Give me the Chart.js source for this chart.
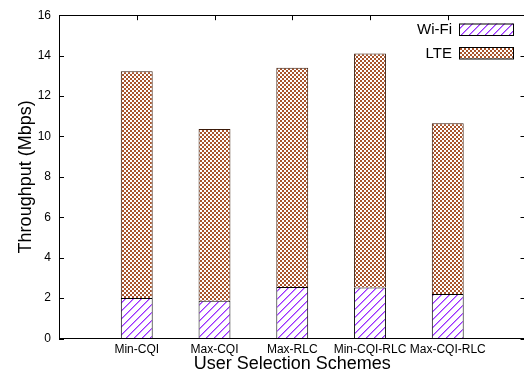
<!DOCTYPE html>
<html>
<head>
<meta charset="utf-8">
<script src="https://cdn.jsdelivr.net/npm/chart.js@4/dist/chart.umd.min.js"></script>
<style>
  html, body { margin: 0; padding: 0; background: #fff; overflow: hidden; }
  #wrap { width: 530px; height: 376px; position: relative; }
</style>
</head>
<body>
<div id="wrap"><canvas id="chart"></canvas></div>
<script>
// Throughput per user selection scheme, split into Wi-Fi and LTE parts
const categories = ['Min-CQI', 'Max-CQI', 'Max-RLC', 'Min-CQI-RLC', 'Max-CQI-RLC'];
const wifiThroughput = [2.0, 1.87, 2.55, 2.53, 2.2];
const lteThroughput = [11.23, 8.5, 10.85, 11.57, 8.45];
const yTicks = [0, 2, 4, 6, 8, 10, 12, 14, 16];

const FONT = "'Liberation Sans', Arial, Helvetica, sans-serif";

// Fill patterns: purple diagonal hatch and brown checkerboard
function hatchPattern() {
  const c = document.createElement('canvas');
  c.width = 8; c.height = 8;
  const g = c.getContext('2d');
  g.fillStyle = '#ffffff';
  g.fillRect(0, 0, 8, 8);
  g.fillStyle = '#9b30ff';
  for (let i = 0; i < 8; i++) g.fillRect(i, 7 - i, 1, 1);
  g.fillStyle = 'rgba(155,48,255,0.55)';
  for (let i = 0; i < 8; i++) g.fillRect((i + 1) % 8, 7 - i, 1, 1);
  return g.createPattern(c, 'repeat');
}
function checkerPattern() {
  const c = document.createElement('canvas');
  c.width = 4; c.height = 4;
  const g = c.getContext('2d');
  g.fillStyle = '#ffffff';
  g.fillRect(0, 0, 4, 4);
  g.fillStyle = '#a8542c';
  g.fillRect(0, 0, 2, 2);
  g.fillRect(2, 2, 2, 2);
  return g.createPattern(c, 'repeat');
}

// Gnuplot-style frame: inward tick marks behind the bars, border on top
const framePlugin = {
  id: 'frame',
  beforeDatasetsDraw(chart) {
    const { ctx, chartArea: a, scales: { x, y } } = chart;
    const len = 5;
    ctx.save();
    ctx.strokeStyle = '#000';
    ctx.lineWidth = 1;
    ctx.beginPath();
    yTicks.forEach(v => {
      const py = Math.round(y.getPixelForValue(v)) + 0.5;
      ctx.moveTo(a.left, py); ctx.lineTo(a.left + len, py);
      ctx.moveTo(a.right, py); ctx.lineTo(a.right - len, py);
    });
    categories.forEach((_, i) => {
      const px = Math.round(x.getPixelForValue(i)) + 0.5;
      ctx.moveTo(px, a.top); ctx.lineTo(px, a.top + len);
      ctx.moveTo(px, a.bottom); ctx.lineTo(px, a.bottom - len);
    });
    ctx.stroke();
    ctx.restore();
  },
  afterDatasetsDraw(chart) {
    const { ctx, chartArea: a } = chart;
    ctx.save();
    ctx.strokeStyle = '#000';
    ctx.lineWidth = 1;
    ctx.strokeRect(Math.round(a.left) + 0.5, Math.round(a.top) + 0.5,
                   Math.round(a.right - a.left), Math.round(a.bottom - a.top));
    ctx.restore();
  }
};

// Key in the top-right corner: label text on the left, sample box on the right
const keyPlugin = {
  id: 'key',
  afterDraw(chart, args, opts) {
    const { ctx } = chart;
    ctx.save();
    ctx.font = '15px ' + FONT;
    ctx.textAlign = 'right';
    ctx.textBaseline = 'middle';
    chart.data.datasets.forEach((ds, i) => {
      const top = opts.top + i * opts.rowGap;
      ctx.fillStyle = ds.backgroundColor;
      ctx.fillRect(opts.boxLeft, top, opts.boxWidth, opts.boxHeight);
      ctx.strokeStyle = '#000';
      ctx.lineWidth = 1;
      ctx.strokeRect(opts.boxLeft + 0.5, top + 0.5, opts.boxWidth, opts.boxHeight);
      ctx.fillStyle = '#000';
      ctx.fillText(ds.label, opts.textRight, top + opts.boxHeight / 2 + 1);
    });
    ctx.restore();
  }
};

const toPoints = arr => arr.map((v, i) => ({ x: i, y: v }));

new Chart(document.getElementById('chart'), {
  type: 'bar',
  data: {
    datasets: [
      {
        label: 'Wi-Fi',
        data: toPoints(wifiThroughput),
        backgroundColor: hatchPattern(),
        borderColor: '#000',
        borderWidth: 1
      },
      {
        label: 'LTE',
        data: toPoints(lteThroughput),
        backgroundColor: checkerPattern(),
        borderColor: '#3a1a0a',
        borderWidth: 1
      }
    ]
  },
  options: {
    responsive: true,
    maintainAspectRatio: false,
    animation: false,
    events: [],
    layout: { padding: { top: 14, right: 4.5, bottom: 0, left: 0 } },
    datasets: { bar: { categoryPercentage: 1, barPercentage: 0.41 } },
    plugins: {
      legend: { display: false },
      tooltip: { enabled: false },
      key: { top: 23.5, rowGap: 23.5, boxLeft: 459, boxWidth: 54, boxHeight: 11.5, textRight: 452 }
    },
    scales: {
      x: {
        type: 'linear',
        stacked: true,
        offset: false,
        min: -1,
        max: 5,
        afterFit: s => { s.height = 37.5; },
        grid: { display: false, drawTicks: false, offset: false },
        border: { display: false },
        ticks: {
          stepSize: 1,
          autoSkip: false,
          maxRotation: 0,
          padding: 4,
          color: '#000',
          font: { family: FONT, size: 12 },
          callback: v => categories[v] ?? ''
        },
        title: {
          display: true,
          text: 'User Selection Schemes',
          color: '#000',
          font: { family: FONT, size: 18, lineHeight: 1 },
          padding: { top: 0, bottom: 3 }
        }
      },
      y: {
        stacked: true,
        min: 0,
        max: 16,
        afterFit: s => { s.width = 59; },
        grid: { display: false, drawTicks: false },
        border: { display: false },
        ticks: {
          stepSize: 2,
          padding: 8,
          color: '#000',
          font: { family: FONT, size: 12 }
        },
        title: {
          display: true,
          text: 'Throughput (Mbps)',
          color: '#000',
          font: { family: FONT, size: 18, lineHeight: 1 },
          padding: { top: 17, bottom: 0 }
        }
      }
    }
  },
  plugins: [framePlugin, keyPlugin]
});
</script>
</body>
</html>
